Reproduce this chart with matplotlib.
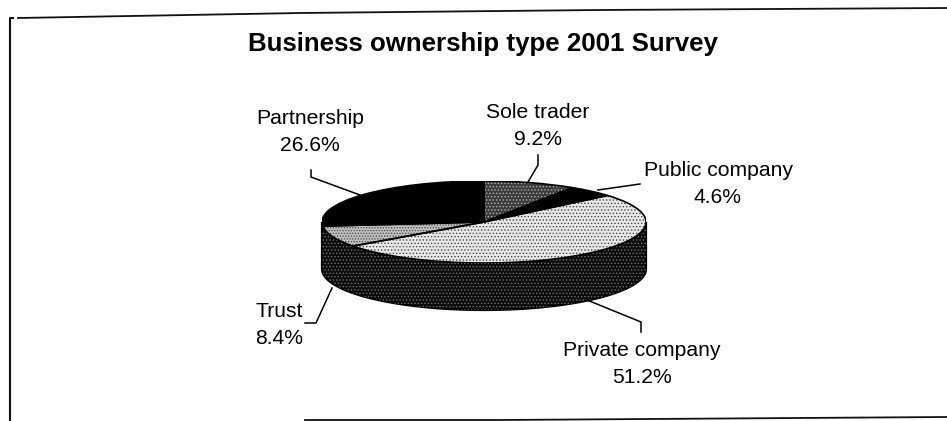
import numpy as np
import matplotlib
matplotlib.use('Agg')
import matplotlib.pyplot as plt
from matplotlib.patches import Polygon, Wedge

plt.rcParams['font.family'] = ['Liberation Sans', 'DejaVu Sans']
plt.rcParams['hatch.linewidth'] = 0.6

# slices, clockwise from 12 o'clock
labels = ['Sole trader', 'Public company', 'Private company', 'Trust', 'Partnership']
shares = [9.2, 4.6, 51.2, 8.4, 26.6]
colors = ['#3c3c3c', '#000000', '#e8e8e8', '#c0c0c0', '#000000']
hatches = ['.....', None, '.....', '......', None]
hatch_colors = ['#b0b0b0', '#000000', '#444444', '#444444', '#000000']

W, H = 947, 421
cx, cy = 484, 222
rx, ry = 162, 41
depth = 47

fig = plt.figure(figsize=(W / 100, H / 100), dpi=100)
ax = fig.add_axes([0, 0, 1, 1])

# side wall of the pie, front half of the ellipse
t = np.linspace(0, np.pi, 120)
top_edge = np.column_stack([cx + rx * np.cos(t), cy + ry * np.sin(t)])
low_edge = np.column_stack([cx + rx * np.cos(t), cy + depth + ry * np.sin(t)])
wall = np.vstack([top_edge, low_edge[::-1]])
ax.add_patch(Polygon(wall, closed=True, facecolor='#0c0c0c', edgecolor='#000000', lw=1.6, zorder=1))
ax.add_patch(Polygon(wall, closed=True, fill=False, edgecolor='#707070', hatch='.....', lw=0, zorder=1.1))

# top face, the axes y scale squashes it into an ellipse
pie_ax = fig.add_axes([(cx - rx) / W, 1 - (cy + ry) / H, 2 * rx / W, 2 * ry / H])
wedges, _ = pie_ax.pie(shares, startangle=90, counterclock=False, radius=1)
pie_ax.set_aspect('auto')
pie_ax.set_xlim(-1, 1)
pie_ax.set_ylim(-1, 1)
for w, c, h, hc in zip(wedges, colors, hatches, hatch_colors):
    w.set_facecolor(c)
    w.set_edgecolor(hc)
    w.set_hatch(h)
    w.set_linewidth(0)
    pie_ax.add_patch(Wedge(w.center, w.r, w.theta1, w.theta2, fill=False,
                           edgecolor='#000000', lw=1.2))

ax.set_xlim(0, W)
ax.set_ylim(H, 0)
ax.axis('off')

# scanned frame
frame = '#111111'
ax.plot([9.5, 9.5, 13], [421, 18, 18], color=frame, lw=1.5)
ax.plot([18, 300, 600, 947], [18, 13, 10, 8], color=frame, lw=1.3)
ax.plot([305, 500, 947], [420, 420, 417], color=frame, lw=1.3)

# title and labels
ax.text(483, 44, 'Business ownership type 2001 Survey', fontsize=18.6, fontweight='bold',
        ha='center', va='center', color='#000000')

label_xy = [(538, 126), (718, 184), (642, 364), (279, 325), (310, 132)]
for name, share, (x, y) in zip(labels, shares, label_xy):
    ax.text(x, y, f'{name}\n{share}%', fontsize=15.2, ha='center', va='center',
            linespacing=1.57, color='#000000')

# leader lines
leaders = [
    ([538, 538, 528], [155, 165, 182]),
    ([640, 598], [184, 190]),
    ([641, 641, 587], [332, 322, 300]),
    ([305, 316, 332], [323, 323, 288]),
    ([311, 311, 360], [170, 177, 195]),
]
for xs, ys in leaders:
    ax.plot(xs, ys, color='#000000', lw=1.1)

fig.savefig('out.png', dpi=100)
